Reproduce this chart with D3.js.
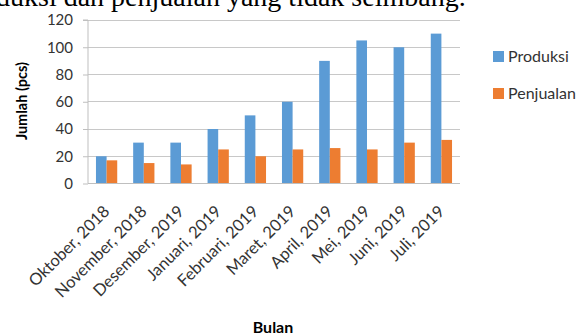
<!DOCTYPE html>
<html><head><meta charset="utf-8">
<script src="https://cdn.jsdelivr.net/npm/d3@7"></script>
<style>body{margin:0;background:#fff}svg{display:block}</style>
</head><body>
<script>
const categories = ["Oktober, 2018","November, 2018","Desember, 2019","Januari, 2019","Februari, 2019","Maret, 2019","April, 2019","Mei, 2019","Juni, 2019","Juli, 2019"];
const produksi = [20,30,30,40,50,60,90,105,100,110];
const penjualan = [17,15,14,25,20,25,26,25,30,32];
const seriesNames = ["Produksi","Penjualan"];
const yTicks = [0,20,40,60,80,100,120];
const colors = ["#5B9BD5","#ED7D31"];
const FONT = "Lato, 'Open Sans', sans-serif";

const W=581,H=335;
const svg=d3.select("body").append("svg").attr("width",W).attr("height",H);

// cropped caption from the source document
svg.append("text").attr("x",-4).attr("y",6)
  .style("font-family","'Liberation Serif','Times New Roman',serif").style("font-size","28px").attr("fill","#000")
  .text("duksi dan penjualan yang tidak seimbang.");

const m={l:88,r:460,t:20,b:183.5};
const x=d3.scaleBand().domain(categories).range([m.l,m.r]).paddingInner(0.4286).paddingOuter(0.2143);
const xs=d3.scaleBand().domain(seriesNames).range([0,x.bandwidth()]);
const y=d3.scaleLinear().domain([0,120]).range([m.b,m.t]);

// gridlines
svg.append("g").selectAll("line").data(yTicks.filter(d=>d>0)).join("line")
  .attr("x1",m.l).attr("x2",m.r).attr("y1",d=>y(d)).attr("y2",d=>y(d))
  .attr("stroke","#C8C8C8").attr("stroke-width",1).attr("shape-rendering","crispEdges");

// y axis
const ya=svg.append("g").attr("transform",`translate(${m.l},0)`)
  .call(d3.axisLeft(y).tickValues(yTicks).tickSize(5).tickPadding(10));
ya.select(".domain").attr("stroke","#BFBFBF").attr("d",`M-5,${m.t}H0V${m.b}`);
ya.selectAll(".tick line").attr("stroke","#BFBFBF");
ya.selectAll("text").style("font-family",FONT).style("font-size","15px").attr("fill","#333");

// bars
const data=categories.map((c,i)=>({c,vals:[produksi[i],penjualan[i]]}));
const g=svg.append("g").selectAll("g").data(data).join("g").attr("transform",d=>`translate(${x(d.c)},0)`);
g.selectAll("rect").data(d=>d.vals.map((v,j)=>({v,s:seriesNames[j],j}))).join("rect")
  .attr("x",d=>xs(d.s)).attr("width",xs.bandwidth())
  .attr("y",d=>y(d.v)).attr("height",d=>y(0)-y(d.v)).attr("fill",d=>colors[d.j]);

// x axis line
const xa=svg.append("g").attr("transform",`translate(0,${m.b})`)
  .call(d3.axisBottom(x).tickSize(0).tickPadding(0));
xa.select(".domain").attr("stroke","#BFBFBF").attr("d",`M${m.l},0H${m.r}`);
xa.selectAll(".tick text").style("font-family",FONT).style("font-size","16.5px").attr("fill","#333")
  .attr("text-anchor","end").attr("dy",0).attr("y",0)
  .attr("transform","translate(4,29) rotate(-45)");

// axis titles
svg.append("text").attr("transform","translate(27,101) rotate(-90)").attr("text-anchor","middle")
  .style("font-family",FONT).style("font-size","14.5px").style("font-weight","bold").attr("fill","#000").text("Jumlah (pcs)");
svg.append("text").attr("x",273).attr("y",333).attr("text-anchor","middle")
  .style("font-family",FONT).style("font-size","16px").style("font-weight","bold").attr("fill","#000").text("Bulan");

// legend
const lg=svg.append("g").selectAll("g").data(seriesNames).join("g")
  .attr("transform",(d,i)=>`translate(493,${51+i*37})`);
lg.append("rect").attr("width",11).attr("height",11).attr("fill",(d,i)=>colors[i]);
lg.append("text").attr("x",15).attr("y",11).style("font-family",FONT).style("font-size","16px").attr("fill","#333").text(d=>d);
</script>
</body></html>
